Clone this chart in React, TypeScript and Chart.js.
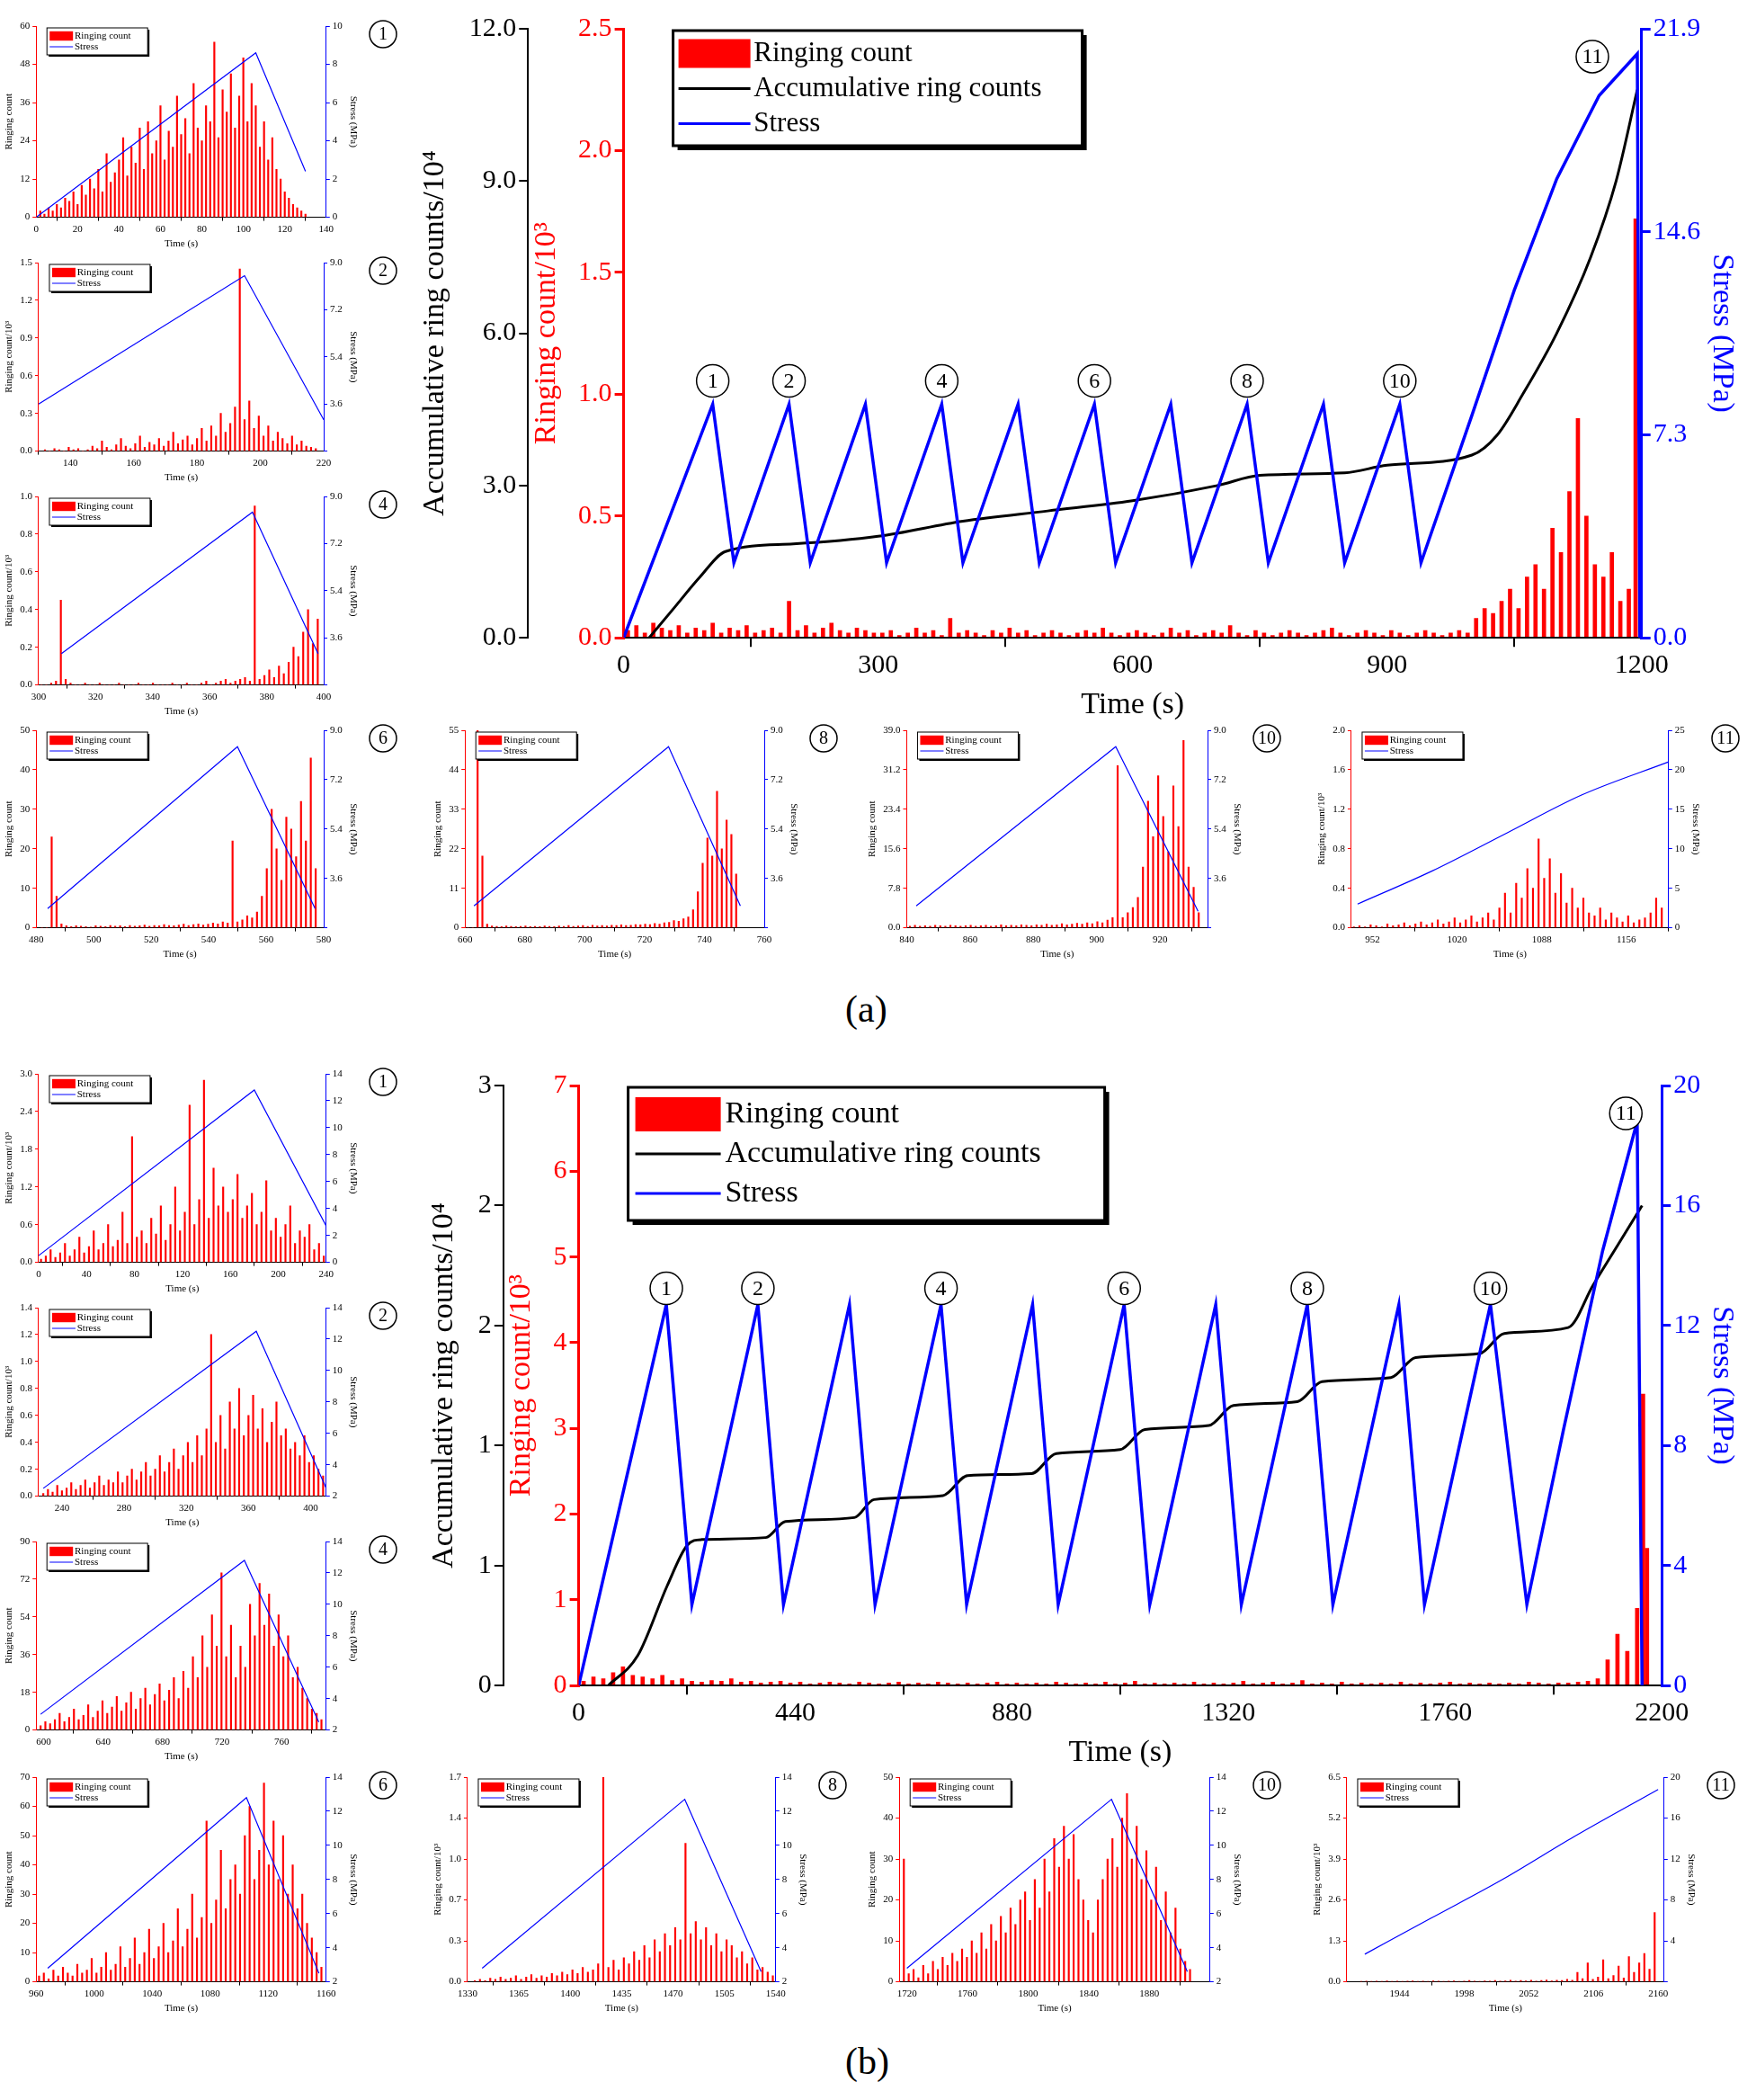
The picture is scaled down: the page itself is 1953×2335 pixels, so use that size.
import React, { useEffect, useRef } from "react";
import { Chart, registerables } from "chart.js";
Chart.register(...registerables);

const FONT = "'Liberation Serif', 'Times New Roman', serif";

// ---------- Panel (a) main ----------
const mainA_ring = [0.03,0.05,0.02,0.06,0.04,0.03,0.05,0.02,0.04,0.03,0.06,0.02,0.04,0.03,0.05,0.02,0.03,0.04,0.02,0.15,0.03,0.05,0.02,0.04,0.06,0.03,0.02,0.04,0.03,0.02,
0.02,0.03,0.01,0.02,0.04,0.02,0.03,0.01,0.08,0.02,0.03,0.02,0.01,0.03,0.02,0.04,0.02,0.03,0.01,0.02,0.03,0.02,0.01,0.02,0.03,0.02,0.04,0.02,0.01,0.02,
0.03,0.02,0.01,0.02,0.04,0.02,0.03,0.01,0.02,0.03,0.02,0.05,0.02,0.01,0.03,0.02,0.01,0.02,0.03,0.02,0.01,0.02,0.03,0.04,0.02,0.01,0.02,0.03,0.02,0.01,
0.03,0.02,0.01,0.02,0.03,0.02,0.01,0.02,0.03,0.02,0.08,0.12,0.1,0.15,0.2,0.12,0.25,0.3,0.2,0.45,0.35,0.6,0.9,0.5,0.3,0.25,0.35,0.15,0.2];
const mainA_spikes: [number, number][] = [[1193, 1.72]];
const mainA_acc: [number, number][] = [[30,0],[60,0.6],[90,1.2],[120,1.7],[200,1.85],[300,2.0],[400,2.3],[500,2.5],[600,2.7],[700,3.0],[750,3.2],[850,3.25],[900,3.4],[1000,3.6],[1030,4.0],[1060,4.8],[1100,6.0],[1140,7.5],[1170,9.0],[1195,10.8]];
const mainA_stress: [number, number][] = [[0,0],[105,8.4],[130,2.7],[195,8.4],[220,2.7],[285,8.4],[310,2.7],[375,8.4],[400,2.7],[465,8.4],[490,2.7],[555,8.4],[580,2.7],[645,8.4],[670,2.7],[735,8.4],[760,2.7],[825,8.4],[850,2.7],[915,8.4],[940,2.7],[1000,8.0],[1050,12.5],[1100,16.5],[1150,19.5],[1195,21.0],[1198,0]];
const mainA_markers = [[105,8.4,"1"],[195,8.4,"2"],[375,8.4,"4"],[555,8.4,"6"],[735,8.4,"8"],[915,8.4,"10"]];

// ---------- Panel (b) main ----------
const mainB_ring = [0.05,0.1,0.08,0.15,0.22,0.12,0.1,0.08,0.12,0.06,0.08,0.05,0.04,0.06,0.05,0.08,0.04,0.05,0.03,0.04,
0.05,0.03,0.04,0.02,0.03,0.04,0.03,0.02,0.04,0.03,0.02,0.03,0.04,0.02,0.03,0.02,0.04,0.03,0.02,0.03,
0.02,0.03,0.04,0.02,0.03,0.02,0.03,0.02,0.04,0.03,0.02,0.03,0.02,0.04,0.02,0.03,0.05,0.02,0.03,0.02,
0.03,0.02,0.04,0.02,0.03,0.02,0.03,0.05,0.02,0.03,0.04,0.02,0.03,0.06,0.02,0.03,0.02,0.04,0.02,0.03,
0.02,0.03,0.02,0.04,0.02,0.03,0.02,0.03,0.04,0.02,0.03,0.02,0.03,0.02,0.03,0.02,0.04,0.03,0.02,0.03,
0.03,0.04,0.05,0.08,0.3,0.6,0.4,0.9,1.6];
const mainB_spikes: [number, number][] = [[2162, 3.4]];
const mainB_acc: [number, number][] = [[60,0],[120,0.15],[180,0.5],[220,0.7],[250,0.73],[380,0.74],[420,0.82],[560,0.84],[600,0.93],[740,0.95],[790,1.05],[920,1.06],[970,1.16],[1100,1.18],[1150,1.28],[1280,1.3],[1330,1.4],[1460,1.42],[1510,1.52],[1650,1.54],[1700,1.64],[1830,1.66],[1880,1.76],[2010,1.79],[2060,2.0],[2110,2.2],[2160,2.4]];
const mainB_stress: [number, number][] = [[0,0],[178,12.7],[230,2.7],[364,12.7],[416,2.7],[550,12.7],[602,2.7],[736,12.7],[788,2.7],[922,12.7],[974,2.7],[1108,12.7],[1160,2.7],[1294,12.7],[1346,2.7],[1480,12.7],[1532,2.7],[1666,12.7],[1718,2.7],[1852,12.7],[1926,2.7],[2000,8.5],[2080,14.5],[2150,18.8],[2160,0]];
const mainB_markers = [[178,12.7,"1"],[364,12.7,"2"],[736,12.7,"4"],[1108,12.7,"6"],[1480,12.7,"8"],[1852,12.7,"10"]];

// ---------- Small charts (a) ----------
const a1_ring = [2,1,3,2,4,3,6,5,8,4,10,7,12,9,15,8,20,11,14,18,25,13,22,17,28,15,30,20,24,35,18,27,22,38,26,31,20,42,28,24,35,30,55,25,40,33,45,28,38,50,30,42,35,22,30,18,25,15,12,8,6,4,3,2,1];
const a1_stress: [number, number][] = [[0,0],[106,8.6],[130,2.4]];
const a2_ring = [0.01,0,0.02,0.01,0,0.03,0.01,0.02,0,0.01,0.04,0.02,0.08,0.03,0.01,0.05,0.1,0.04,0.02,0.06,0.12,0.03,0.07,0.05,0.1,0.04,0.08,0.15,0.06,0.09,0.12,0.05,0.1,0.18,0.08,0.2,0.12,0.3,0.15,0.22,0.35,1.45,0.25,0.4,0.18,0.28,0.12,0.2,0.08,0.15,0.1,0.06,0.12,0.05,0.08,0.04,0.03,0.02];
const a2_stress: [number, number][] = [[130,3.6],[195,8.5],[220,3.0]];
const a4_ring = [0,0,0.01,0.02,0.45,0.03,0.01,0,0,0.01,0,0,0.01,0,0,0,0.01,0,0,0,0.01,0,0,0.01,0,0,0,0.01,0,0,0.01,0,0,0.01,0.02,0,0.01,0.02,0.03,0.01,0.02,0.03,0.04,0.02,0.95,0.03,0.05,0.08,0.04,0.1,0.06,0.12,0.2,0.15,0.28,0.4,0.22,0.35];
const a4_stress: [number, number][] = [[308,3.0],[375,8.4],[398,3.0]];
const a6_ring = [0,0,23,8,1,0.5,0.3,0.5,0.4,0.3,0.2,0.5,0.4,0.3,0.6,0.4,0.5,0.3,0.6,0.4,0.5,0.7,0.4,0.6,0.5,0.8,0.6,0.5,0.7,0.9,0.6,0.8,1,0.7,0.9,1.2,1,1.5,1.2,22,1.5,2,3,2.5,4,8,15,30,20,12,28,25,18,32,22,43,15];
const a6_stress: [number, number][] = [[484,2.5],[550,8.4],[577,2.5]];
const a8_ring = [0,0,55,20,1,0.5,0.4,0.3,0.5,0.4,0.3,0.4,0.5,0.3,0.4,0.3,0.5,0.4,0.3,0.5,0.4,0.6,0.4,0.5,0.6,0.4,0.7,0.5,0.6,0.5,0.7,0.6,0.8,0.6,0.7,0.9,0.8,1,0.9,1.2,1,1.4,1.5,2,1.8,2.5,3,5,10,18,25,20,38,22,30,26,15];
const a8_stress: [number, number][] = [[663,2.6],[728,8.4],[752,2.6]];
const a10_ring = [0.3,0.5,0.3,0.4,0.3,0.5,0.4,0.3,0.5,0.4,0.3,0.4,0.5,0.3,0.4,0.5,0.3,0.4,0.6,0.4,0.5,0.4,0.6,0.5,0.4,0.6,0.5,0.7,0.5,0.6,0.8,0.6,0.7,0.9,0.7,1,0.8,1.2,1,1.5,2,32,2,3,4,6,12,25,18,30,22,15,28,20,37,12,8,3];
const a10_stress: [number, number][] = [[843,2.6],[906,8.4],[932,2.4]];
const a11_ring = [0.01,0.02,0.01,0.03,0.02,0.01,0.04,0.02,0.03,0.05,0.02,0.04,0.06,0.03,0.05,0.08,0.04,0.06,0.1,0.05,0.08,0.12,0.06,0.1,0.15,0.08,0.2,0.35,0.15,0.45,0.3,0.6,0.4,0.9,0.5,0.7,0.35,0.55,0.25,0.4,0.2,0.3,0.15,0.12,0.2,0.08,0.15,0.1,0.06,0.12,0.05,0.08,0.1,0.15,0.3,0.2];
const a11_stress: [number, number][] = [[940,3],[1000,7.2],[1060,12],[1120,16.8],[1190,21]];

// ---------- Small charts (b) ----------
const b1_ring = [0.05,0.1,0.2,0.08,0.15,0.3,0.1,0.2,0.4,0.15,0.25,0.5,0.2,0.3,0.6,0.25,0.35,0.8,0.3,2.0,0.4,0.5,0.3,0.7,0.45,0.9,0.35,0.6,1.2,0.5,0.8,2.5,0.6,1.0,2.9,0.7,1.5,0.9,1.2,0.8,1.0,1.4,0.7,0.9,1.1,0.6,0.8,1.3,0.5,0.7,0.4,0.6,0.9,0.3,0.5,0.4,0.6,0.2,0.3,0.1];
const b1_stress: [number, number][] = [[0,0.5],[180,12.8],[240,2.7]];
const b2_ring = [0.02,0.05,0.03,0.08,0.04,0.06,0.1,0.05,0.08,0.12,0.06,0.1,0.15,0.08,0.12,0.1,0.18,0.1,0.15,0.2,0.12,0.18,0.25,0.15,0.2,0.3,0.18,0.25,0.35,0.2,0.3,0.4,0.25,0.45,0.3,0.5,1.2,0.4,0.6,0.35,0.7,0.5,0.8,0.45,0.6,0.75,0.5,0.65,0.4,0.55,0.7,0.45,0.5,0.35,0.4,0.3,0.45,0.25,0.3,0.2,0.15];
const b2_stress: [number, number][] = [[228,2.5],[365,12.5],[410,2.5]];
const b4_ring = [2,4,3,5,8,4,6,10,5,7,12,6,9,14,8,11,16,9,13,18,10,15,20,12,17,22,14,19,25,15,28,20,35,25,45,30,55,40,75,35,50,25,40,30,60,45,70,50,65,40,55,35,45,25,30,20,15,10,8,5];
const b4_stress: [number, number][] = [[598,3],[735,12.8],[785,2.5]];
const b6_ring = [2,3,1,4,2,5,3,2,6,3,4,8,3,5,10,4,6,12,5,8,15,6,10,18,8,12,20,10,14,25,12,18,30,15,22,55,20,28,45,25,35,40,30,50,60,35,45,68,40,55,35,50,30,40,25,30,20,15,10,5];
const b6_stress: [number, number][] = [[968,2.8],[1105,12.8],[1155,2.5]];
const b8_ring = [0.01,0.02,0.01,0.03,0.02,0.04,0.02,0.03,0.05,0.02,0.04,0.06,0.03,0.05,0.04,0.07,0.05,0.08,0.06,0.1,0.07,0.12,0.08,0.1,0.15,1.7,0.12,0.18,0.1,0.2,0.15,0.25,0.18,0.3,0.2,0.35,0.25,0.4,0.3,0.45,0.35,1.15,0.4,0.5,0.35,0.45,0.3,0.4,0.25,0.35,0.3,0.2,0.25,0.15,0.2,0.1,0.12,0.08,0.05];
const b8_stress: [number, number][] = [[1340,2.8],[1478,12.7],[1530,2.6]];
const b10_ring = [30,2,3,1,4,2,5,3,6,4,7,5,8,6,10,7,12,8,14,10,16,12,18,14,20,22,15,25,18,30,22,35,28,38,30,36,25,20,15,12,20,25,30,35,28,40,46,30,38,25,32,20,28,15,22,12,18,8,5,3];
const b10_stress: [number, number][] = [[1720,2.8],[1855,12.7],[1905,2.6]];
const b11_ring = [0.01,0.02,0.01,0.02,0.01,0.03,0.01,0.02,0.01,0.02,0.03,0.01,0.02,0.01,0.03,0.02,0.01,0.02,0.03,0.01,0.02,0.04,0.02,0.01,0.03,0.02,0.04,0.02,0.03,0.05,0.02,0.04,0.03,0.05,0.02,0.04,0.06,0.03,0.05,0.04,0.08,0.05,0.3,0.1,0.6,0.08,0.15,0.7,0.1,0.2,0.5,0.12,0.8,0.3,0.6,0.9,0.4,2.2];
const b11_stress: [number, number][] = [[1915,2.7],[1970,6.2],[2030,10],[2090,14.2],[2160,18.8]];

type Spec = {
  num: string; box: [number, number, number, number];
  xMin: number; xMax: number; xTicks: number[];
  rMax: number; rStep: number; rDec: number; r3: boolean;
  sMin: number; sMax: number; sStep: number; sDec: number; hideSMin?: boolean; smooth?: boolean;
  t0: number; dt: number; ring: number[]; stress: [number, number][];
};

const smallSpecs: Spec[] = [
  { num: "1", box: [0, 15, 447, 265], xMin: 0, xMax: 140, xTicks: [0,20,40,60,80,100,120,140], rMax: 60, rStep: 12, rDec: 0, r3: false, sMin: 0, sMax: 10, sStep: 2, sDec: 0, t0: 2, dt: 2, ring: a1_ring, stress: a1_stress },
  { num: "2", box: [0, 278, 447, 262], xMin: 130, xMax: 220, xTicks: [140,160,180,200,220], rMax: 1.5, rStep: 0.3, rDec: 1, r3: true, sMin: 1.8, sMax: 9, sStep: 1.8, sDec: 1, hideSMin: true, t0: 132, dt: 1.5, ring: a2_ring, stress: a2_stress },
  { num: "4", box: [0, 538, 447, 262], xMin: 300, xMax: 400, xTicks: [300,320,340,360,380,400], rMax: 1.0, rStep: 0.2, rDec: 1, r3: true, sMin: 1.8, sMax: 9, sStep: 1.8, sDec: 1, hideSMin: true, t0: 301, dt: 1.7, ring: a4_ring, stress: a4_stress },
  { num: "6", box: [0, 798, 447, 272], xMin: 480, xMax: 580, xTicks: [480,500,520,540,560,580], rMax: 50, rStep: 10, rDec: 0, r3: false, sMin: 1.8, sMax: 9, sStep: 1.8, sDec: 1, hideSMin: true, t0: 482, dt: 1.7, ring: a6_ring, stress: a6_stress },
  { num: "8", box: [477, 798, 460, 272], xMin: 660, xMax: 760, xTicks: [660,680,700,720,740,760], rMax: 55, rStep: 11, rDec: 0, r3: false, sMin: 1.8, sMax: 9, sStep: 1.8, sDec: 1, hideSMin: true, t0: 661, dt: 1.6, ring: a8_ring, stress: a8_stress },
  { num: "10", box: [960, 798, 470, 272], xMin: 840, xMax: 935, xTicks: [840,860,880,900,920], rMax: 39, rStep: 7.8, rDec: 1, r3: false, sMin: 1.8, sMax: 9, sStep: 1.8, sDec: 1, hideSMin: true, t0: 841, dt: 1.6, ring: a10_ring, stress: a10_stress },
  { num: "11", box: [1460, 798, 480, 272], xMin: 935, xMax: 1190, xTicks: [952,1020,1088,1156], rMax: 2.0, rStep: 0.4, rDec: 1, r3: true, sMin: 0, sMax: 25, sStep: 5, sDec: 0, smooth: true, t0: 937, dt: 4.5, ring: a11_ring, stress: a11_stress },
  { num: "1", box: [0, 1180, 447, 262], xMin: 0, xMax: 240, xTicks: [0,40,80,120,160,200,240], rMax: 3.0, rStep: 0.6, rDec: 1, r3: true, sMin: 0, sMax: 14, sStep: 2, sDec: 0, t0: 2, dt: 4, ring: b1_ring, stress: b1_stress },
  { num: "2", box: [0, 1440, 447, 262], xMin: 225, xMax: 410, xTicks: [240,280,320,360,400], rMax: 1.4, rStep: 0.2, rDec: 1, r3: true, sMin: 2, sMax: 14, sStep: 2, sDec: 0, t0: 228, dt: 3, ring: b2_ring, stress: b2_stress },
  { num: "4", box: [0, 1700, 447, 262], xMin: 595, xMax: 790, xTicks: [600,640,680,720,760], rMax: 90, rStep: 18, rDec: 0, r3: false, sMin: 2, sMax: 14, sStep: 2, sDec: 0, t0: 598, dt: 3.2, ring: b4_ring, stress: b4_stress },
  { num: "6", box: [0, 1962, 447, 280], xMin: 960, xMax: 1160, xTicks: [960,1000,1040,1080,1120,1160], rMax: 70, rStep: 10, rDec: 0, r3: false, sMin: 2, sMax: 14, sStep: 2, sDec: 0, t0: 962, dt: 3.3, ring: b6_ring, stress: b6_stress },
  { num: "8", box: [477, 1962, 470, 280], xMin: 1330, xMax: 1540, xTicks: [1330,1365,1400,1435,1470,1505,1540], rMax: 1.7, rStep: 0.34, rDec: 1, r3: true, sMin: 2, sMax: 14, sStep: 2, sDec: 0, t0: 1335, dt: 3.5, ring: b8_ring, stress: b8_stress },
  { num: "10", box: [960, 1962, 470, 280], xMin: 1715, xMax: 1920, xTicks: [1720,1760,1800,1840,1880], rMax: 50, rStep: 10, rDec: 0, r3: false, sMin: 2, sMax: 14, sStep: 2, sDec: 0, t0: 1718, dt: 3.2, ring: b10_ring, stress: b10_stress },
  { num: "11", box: [1455, 1962, 480, 280], xMin: 1900, xMax: 2165, xTicks: [1944,1998,2052,2106,2160], rMax: 6.5, rStep: 1.3, rDec: 1, r3: true, sMin: 0, sMax: 20, sStep: 4, sDec: 0, hideSMin: true, smooth: true, t0: 1912, dt: 4.3, ring: b11_ring, stress: b11_stress },
];

function drawCircled(ctx: CanvasRenderingContext2D, x: number, y: number, r: number, label: string, fs: number) {
  ctx.save();
  ctx.beginPath(); ctx.arc(x, y, r, 0, Math.PI * 2);
  ctx.fillStyle = "#fff"; ctx.fill();
  ctx.lineWidth = 1.5; ctx.strokeStyle = "#000"; ctx.stroke();
  ctx.fillStyle = "#000"; ctx.font = `${fs}px ${FONT}`;
  ctx.textAlign = "center"; ctx.textBaseline = "middle";
  ctx.fillText(label, x, y + 1);
  ctx.restore();
}

const overlayPlugin = {
  id: "overlay",
  afterDraw(chart: any) {
    const o = chart.options.plugins.overlay;
    if (!o) return;
    const ctx = chart.ctx; const ca = chart.chartArea;
    const L = o.legend;
    const bx = ca.left + L.dx, by = ca.top + L.dy;
    ctx.save();
    if (L.shadow) { ctx.fillStyle = "#000"; ctx.fillRect(bx + L.shadow, by + L.shadow, L.w, L.h); }
    ctx.fillStyle = "#fff"; ctx.fillRect(bx, by, L.w, L.h);
    ctx.strokeStyle = "#000"; ctx.lineWidth = L.lw; ctx.strokeRect(bx, by, L.w, L.h);
    ctx.font = `${L.fs}px ${FONT}`; ctx.textBaseline = "middle"; ctx.textAlign = "left";
    L.items.forEach((it: any, i: number) => {
      const cy = by + L.pad + L.row * (i + 0.5);
      if (it.type === "bar") { ctx.fillStyle = it.color; ctx.fillRect(bx + L.pad, cy - L.sym * 0.2, L.sym, L.sym * 0.4); }
      else { ctx.strokeStyle = it.color; ctx.lineWidth = L.lineW; ctx.beginPath(); ctx.moveTo(bx + L.pad, cy); ctx.lineTo(bx + L.pad + L.sym, cy); ctx.stroke(); }
      ctx.fillStyle = "#000"; ctx.fillText(it.label, bx + L.pad * 1.6 + L.sym, cy);
    });
    ctx.restore();
    if (o.markers) {
      const xs = chart.scales.x, ys = chart.scales.st;
      o.markers.forEach((m: any) => {
        drawCircled(ctx, xs.getPixelForValue(m[0]), ys.getPixelForValue(m[1]) + (m[3] ?? o.mdy), o.mr, m[2], o.mfs);
      });
    }
    if (o.corner) drawCircled(ctx, chart.width - o.cr - 6, o.cr + 8, o.cr, o.corner, o.cfs);
  },
};
Chart.register(overlayPlugin);

function axisCommon(color: string, tl: number, bw: number) {
  return {
    grid: { display: true, drawOnChartArea: false, drawTicks: true, tickLength: tl, color, lineWidth: bw },
    border: { display: true, color, width: bw },
  };
}
const plain = (v: any) => String(v);

function SmallChart({ s }: { s: Spec }) {
  const ref = useRef<HTMLCanvasElement>(null);
  useEffect(() => {
    const bars = s.ring.map((v, i) => ({ x: s.t0 + i * s.dt, y: v })).filter(p => p.x <= s.xMax);
    const fs = 11;
    const ch = new Chart(ref.current!, {
      type: "line",
      data: {
        datasets: [
          { type: "line", data: s.stress.map(([x, y]) => ({ x, y })), yAxisID: "st", borderColor: "#0000ff", borderWidth: 1.2, pointRadius: 0, order: 0, cubicInterpolationMode: s.smooth ? "monotone" : "default" } as any,
          { type: "bar", data: bars, yAxisID: "r", backgroundColor: "#ff0000", barThickness: 1.5, order: 1 } as any,
        ],
      },
      options: {
        animation: false, responsive: true, maintainAspectRatio: false,
        layout: { padding: { top: 14, right: 46, bottom: 2, left: 2 } },
        plugins: {
          legend: { display: false }, tooltip: { enabled: false },
          overlay: {
            legend: { dx: 12, dy: 2, w: 112, h: 30, lw: 1, shadow: 2, fs: 11, pad: 3, row: 12, sym: 26, lineW: 1,
              items: [{ label: "Ringing count", type: "bar", color: "#ff0000" }, { label: "Stress", type: "line", color: "#0000ff" }] },
            corner: s.num, cr: 15, cfs: 20,
          },
        } as any,
        scales: {
          x: { type: "linear", min: s.xMin, max: s.xMax, offset: false, ...axisCommon("#000", 4, 1),
            ticks: { color: "#000", font: { family: FONT, size: fs }, callback: plain },
            afterBuildTicks: (sc: any) => { sc.ticks = s.xTicks.map(v => ({ value: v })); },
            title: { display: true, text: "Time (s)", font: { family: FONT, size: fs }, color: "#000", padding: 0 } } as any,
          r: { position: "left", min: 0, max: s.rMax, ...axisCommon("#ff0000", 4, 1),
            ticks: { color: "#000", font: { family: FONT, size: fs }, stepSize: s.rStep, callback: (v: any) => Number(v).toFixed(s.rDec) },
            title: { display: true, text: s.r3 ? "Ringing count/10³" : "Ringing count", font: { family: FONT, size: fs }, color: "#000", padding: 2 } } as any,
          st: { position: "right", min: s.sMin, max: s.sMax, ...axisCommon("#0000ff", 4, 1),
            ticks: { color: "#000", font: { family: FONT, size: fs }, stepSize: s.sStep, callback: (v: any) => (s.hideSMin && v === s.sMin ? "" : Number(v).toFixed(s.sDec)) },
            title: { display: true, text: "Stress (MPa)", font: { family: FONT, size: fs }, color: "#000", padding: 2 } } as any,
        },
      },
    });
    return () => ch.destroy();
  }, [s]);
  const [l, t, w, h] = s.box;
  return <div style={{ position: "absolute", left: l, top: t, width: w, height: h }}><canvas ref={ref} /></div>;
}

type MainSpec = {
  box: [number, number, number, number];
  xMax: number; xStep: number;
  accMax: number; accStep: number; accDec: number;
  rMax: number; rStep: number; rDec: number;
  sMax: number; sStep: number; sDec: number;
  t0: number; dt: number; ring: number[]; spikes: [number, number][];
  acc: [number, number][]; stress: [number, number][];
  markers: any[]; last: any[]; legend: any; mdy: number;
};

const mainA: MainSpec = {
  box: [460, 10, 1493, 800], xMax: 1200, xStep: 300,
  accMax: 12, accStep: 3, accDec: 1, rMax: 2.5, rStep: 0.5, rDec: 1, sMax: 21.9, sStep: 7.3, sDec: 1,
  t0: 5, dt: 10, ring: mainA_ring, spikes: mainA_spikes, acc: mainA_acc, stress: mainA_stress,
  markers: mainA_markers, last: [1142, 20.9, "11", 0], mdy: -26,
  legend: { dx: 55, dy: 2, w: 455, h: 128, lw: 3, shadow: 5, fs: 31, pad: 6, row: 39, sym: 80, lineW: 3 },
};
const mainB: MainSpec = {
  box: [470, 1185, 1483, 790], xMax: 2200, xStep: 440,
  accMax: 3, accStep: 0.6, accDec: 0, rMax: 7, rStep: 1, rDec: 0, sMax: 20, sStep: 4, sDec: 0,
  t0: 10, dt: 20, ring: mainB_ring, spikes: mainB_spikes, acc: mainB_acc, stress: mainB_stress,
  markers: mainB_markers, last: [2127, 19.07, "11", 0], mdy: -18,
  legend: { dx: 55, dy: 2, w: 530, h: 148, lw: 3, shadow: 5, fs: 34, pad: 8, row: 44, sym: 95, lineW: 3 },
};

function MainChart({ m }: { m: MainSpec }) {
  const ref = useRef<HTMLCanvasElement>(null);
  useEffect(() => {
    const bars = m.ring.map((v, i) => ({ x: m.t0 + i * m.dt, y: v })).concat(m.spikes.map(([x, y]) => ({ x, y })));
    const fs = 30, tfs = 34;
    const ch = new Chart(ref.current!, {
      type: "line",
      data: {
        datasets: [
          { type: "line", data: m.stress.map(([x, y]) => ({ x, y })), yAxisID: "st", borderColor: "#0000ff", borderWidth: 3.5, pointRadius: 0, order: 0 } as any,
          { type: "line", data: m.acc.map(([x, y]) => ({ x, y })), yAxisID: "acc", borderColor: "#000", borderWidth: 3, pointRadius: 0, order: 1, cubicInterpolationMode: "monotone" } as any,
          { type: "bar", data: bars, yAxisID: "r", backgroundColor: "#ff0000", barThickness: 4, order: 2 } as any,
        ],
      },
      options: {
        animation: false, responsive: true, maintainAspectRatio: false,
        layout: { padding: { top: 22, right: 10, bottom: 4, left: 4 } },
        plugins: {
          legend: { display: false }, tooltip: { enabled: false },
          overlay: {
            legend: { ...m.legend, items: [{ label: "Ringing count", type: "bar", color: "#ff0000" }, { label: "Accumulative ring counts", type: "line", color: "#000" }, { label: "Stress", type: "line", color: "#0000ff" }] },
            markers: [...m.markers, m.last], mdy: m.mdy, mr: 18, mfs: 24,
          },
        } as any,
        scales: {
          x: { type: "linear", min: 0, max: m.xMax, offset: false, ...axisCommon("#000", 10, 2),
            ticks: { color: "#000", font: { family: FONT, size: fs }, stepSize: m.xStep, callback: plain },
            title: { display: true, text: "Time (s)", font: { family: FONT, size: tfs }, color: "#000", padding: 2 } } as any,
          r: { position: "left", weight: 0, min: 0, max: m.rMax, ...axisCommon("#ff0000", 10, 3),
            ticks: { color: "#ff0000", font: { family: FONT, size: fs }, stepSize: m.rStep, callback: (v: any) => Number(v).toFixed(m.rDec) },
            title: { display: true, text: "Ringing count/10³", font: { family: FONT, size: tfs }, color: "#ff0000", padding: { top: 0, bottom: 12 } } } as any,
          acc: { position: "left", weight: 1, min: 0, max: m.accMax, ...axisCommon("#000", 10, 2),
            ticks: { color: "#000", font: { family: FONT, size: fs }, stepSize: m.accStep, callback: (v: any) => Number(v).toFixed(m.accDec) },
            title: { display: true, text: "Accumulative ring counts/10⁴", font: { family: FONT, size: tfs }, color: "#000", padding: { top: 0, bottom: 14 } } } as any,
          st: { position: "right", min: 0, max: m.sMax, ...axisCommon("#0000ff", 10, 3),
            ticks: { color: "#0000ff", font: { family: FONT, size: fs }, stepSize: m.sStep, callback: (v: any) => Number(v).toFixed(m.sDec) },
            title: { display: true, text: "Stress (MPa)", font: { family: FONT, size: tfs }, color: "#0000ff", padding: { top: 8, bottom: 0 } } } as any,
        },
      },
    });
    return () => ch.destroy();
  }, [m]);
  const [l, t, w, h] = m.box;
  return <div style={{ position: "absolute", left: l, top: t, width: w, height: h }}><canvas ref={ref} /></div>;
}

export default function App() {
  useEffect(() => { document.body.style.margin = "0"; }, []);
  return (
    <div style={{ position: "relative", width: 1953, height: 2335, background: "#fff", fontFamily: FONT }}>
      <MainChart m={mainA} />
      <MainChart m={mainB} />
      {smallSpecs.map((s, i) => <SmallChart key={i} s={s} />)}
      <div style={{ position: "absolute", left: 940, top: 1098, fontSize: 42 }}>(a)</div>
      <div style={{ position: "absolute", left: 940, top: 2268, fontSize: 42 }}>(b)</div>
    </div>
  );
}
